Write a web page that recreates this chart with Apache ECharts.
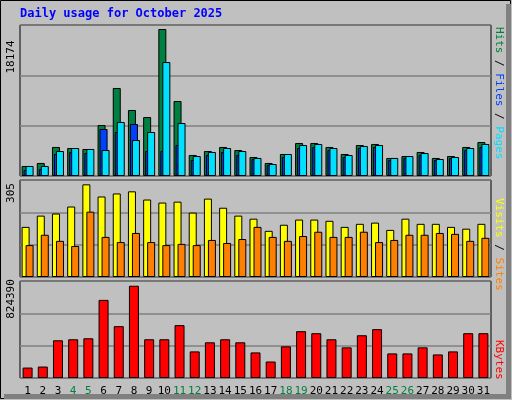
<!DOCTYPE html>
<html>
<head>
<meta charset="utf-8">
<script src="https://cdn.jsdelivr.net/npm/echarts@6/dist/echarts.min.js"></script>
<style>html,body{margin:0;padding:0;background:#c0c0c0;}#chart{width:512px;height:400px;}</style>
</head>
<body>
<div id="chart"></div>
<script>
// 日期
var days = ['1','2','3','4','5','6','7','8','9','10','11','12','13','14','15','16',
	'17','18','19','20','21','22','23','24','25','26','27','28','29','30','31'];
var weekend = ['4','5','11','12','18','19','25','26'];

// 点击量 / 文件 / 页面
var hits = [1240,1610,3590,3460,3340,6300,10880,8160,7290,18174,9270,2600,3090,3590,3210,2350,
	1610,2720,4080,4080,3590,2720,3830,3960,2230,2470,2970,2230,2470,3590,4200];
var files = [740,870,2720,2970,2840,5810,5440,6430,3090,3090,3830,1980,2600,2970,2600,2100,
	1360,2350,3460,3580,3210,2350,3460,3580,1980,2230,2600,1980,2230,3210,3580];
var pages = [1240,1240,3090,3460,3340,3210,6680,4450,5440,14090,6550,2470,2970,3460,3090,2230,
	1480,2720,3830,3960,3460,2600,3710,3830,2230,2470,2840,2100,2350,3460,3960];

// 访问 / 站点
var visits = [165,202,209,232,305,265,275,282,255,245,248,212,258,228,202,192,
	152,172,189,189,185,165,175,179,155,192,175,175,165,159,175];
var sites = [105,139,119,102,215,132,115,145,115,105,109,105,122,112,125,165,
	132,119,135,149,132,132,149,115,122,139,139,145,142,119,129];

// 流量 KB
var kbytes = [93260,102290,337000,346030,355060,698070,463400,824390,346030,346030,472420,237710,318950,346030,318950,228680,
	147440,282850,418260,400200,346030,273820,382150,436310,219660,219660,273820,210630,237710,400200,400200];

var topMax = 18174, midMax = 305, botMax = 824390;

var mono = 'DejaVu Sans Mono';
var myChart = echarts.init(document.getElementById('chart'));

function yAxisFor(idx, max) {
	return {
		gridIndex: idx, type: 'value', min: 0, max: max, interval: max / 3,
		axisLabel: {show: false}, axisLine: {show: false}, axisTick: {show: false},
		splitLine: {lineStyle: {color: '#808080', width: 1.5}}
	};
}
function xAxisFor(idx, showLabel) {
	return {
		gridIndex: idx, type: 'category', data: days,
		axisLine: {show: false}, axisTick: {show: false},
		axisLabel: {
			show: showLabel, interval: 0, margin: 8,
			fontFamily: mono, fontSize: 11,
			formatter: function (v) {
				return weekend.indexOf(v) >= 0 ? '{w|' + v + '}' : '{n|' + v + '}';
			},
			rich: {n: {color: '#000', fontFamily: mono, fontSize: 11}, w: {color: '#008040', fontFamily: mono, fontSize: 11}}
		}
	};
}
var border = {color: '#000', width: 1};

var option = {
	backgroundColor: '#c0c0c0',
	animation: false,
	graphic: [
		{type: 'rect', shape: {x: 0.5, y: 0.5, width: 510, height: 398}, style: {fill: 'none', stroke: '#000', lineWidth: 1}},
		{type: 'rect', shape: {x: 506, y: 4, width: 5, height: 395}, style: {fill: '#808080'}},
		{type: 'rect', shape: {x: 4, y: 394, width: 507, height: 5}, style: {fill: '#808080'}},
		{type: 'text', left: 20, top: 8, style: {text: 'Daily usage for October 2025', fill: '#0000ff', font: 'bold 12px "DejaVu Sans Mono"'}},
		{type: 'text', x: 11, y: 57, rotation: Math.PI / 2, style: {text: '18174', fill: '#000', font: '11px "DejaVu Sans Mono"', align: 'center', verticalAlign: 'middle'}},
		{type: 'text', x: 11, y: 193, rotation: Math.PI / 2, style: {text: '305', fill: '#000', font: '11px "DejaVu Sans Mono"', align: 'center', verticalAlign: 'middle'}},
		{type: 'text', x: 11, y: 299, rotation: Math.PI / 2, style: {text: '824390', fill: '#000', font: '11px "DejaVu Sans Mono"', align: 'center', verticalAlign: 'middle'}},
		{type: 'text', x: 499, y: 27, rotation: -Math.PI / 2, style: {
			text: '{h|Hits}{s| / }{f|Files}{s| / }{p|Pages}', align: 'left', verticalAlign: 'middle',
			rich: {
				h: {fill: '#008040', font: '11px "DejaVu Sans Mono"'},
				f: {fill: '#0040ff', font: '11px "DejaVu Sans Mono"'},
				p: {fill: '#00e0ff', font: '11px "DejaVu Sans Mono"'},
				s: {fill: '#000', font: '11px "DejaVu Sans Mono"'}
			}}},
		{type: 'text', x: 499, y: 198, rotation: -Math.PI / 2, style: {
			text: '{v|Visits}{s| / }{t|Sites}', align: 'left', verticalAlign: 'middle',
			rich: {
				v: {fill: '#ffff00', font: '11px "DejaVu Sans Mono"'},
				t: {fill: '#ff8000', font: '11px "DejaVu Sans Mono"'},
				s: {fill: '#000', font: '11px "DejaVu Sans Mono"'}
			}}},
		{type: 'text', x: 499, y: 340, rotation: -Math.PI / 2, style: {text: 'KBytes', fill: '#ff0000', font: '11px "DejaVu Sans Mono"', align: 'left', verticalAlign: 'middle'}}
	],
	grid: [
		{left: 20, right: 21, top: 25, height: 151, show: true, backgroundColor: '#c0c0c0', borderColor: '#000'},
		{left: 20, right: 21, top: 180, height: 97, show: true, backgroundColor: '#c0c0c0', borderColor: '#000'},
		{left: 20, right: 21, top: 281, height: 97, show: true, backgroundColor: '#c0c0c0', borderColor: '#000'}
	],
	xAxis: [xAxisFor(0, false), xAxisFor(1, false), xAxisFor(2, true)],
	yAxis: [yAxisFor(0, topMax * 151 / 147), yAxisFor(1, midMax * 96 / 91.7), yAxisFor(2, botMax * 96 / 91.3)],
	series: [
		{name: 'Hits', type: 'bar', xAxisIndex: 0, yAxisIndex: 0, data: hits, barWidth: 8, barGap: '-75%',
			itemStyle: {color: '#008040', borderColor: '#000', borderWidth: 1}},
		{name: 'Files', type: 'bar', xAxisIndex: 0, yAxisIndex: 0, data: files, barWidth: 8, barGap: '-75%',
			itemStyle: {color: '#0040ff', borderColor: '#000', borderWidth: 1}},
		{name: 'Pages', type: 'bar', xAxisIndex: 0, yAxisIndex: 0, data: pages, barWidth: 8, barGap: '-75%',
			itemStyle: {color: '#00e0ff', borderColor: '#000', borderWidth: 1}},
		{name: 'Visits', type: 'bar', xAxisIndex: 1, yAxisIndex: 1, data: visits, barWidth: 8, barGap: '-50%',
			itemStyle: {color: '#ffff00', borderColor: '#000', borderWidth: 1}},
		{name: 'Sites', type: 'bar', xAxisIndex: 1, yAxisIndex: 1, data: sites, barWidth: 8, barGap: '-50%',
			itemStyle: {color: '#ff8000', borderColor: '#000', borderWidth: 1}},
		{name: 'KBytes', type: 'bar', xAxisIndex: 2, yAxisIndex: 2, data: kbytes, barWidth: 10,
			itemStyle: {color: '#ff0000', borderColor: '#000', borderWidth: 1}}
	]
};
myChart.setOption(option);
</script>
</body>
</html>
